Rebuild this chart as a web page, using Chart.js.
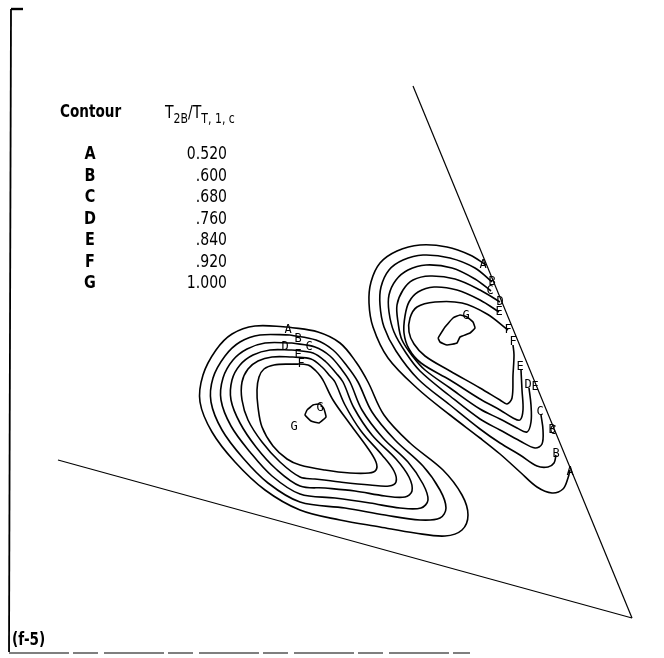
<!DOCTYPE html>
<html>
<head>
<meta charset="utf-8">
<script src="https://cdn.jsdelivr.net/npm/chart.js@4.4.1/dist/chart.umd.min.js"></script>
<style>
  html, body { margin: 0; padding: 0; background: #fff; }
  #wrap { width: 664px; height: 658px; position: relative; }
</style>
</head>
<body>
<div id="wrap"><canvas id="miGrafica"></canvas></div>
<script>
// contour levels, T2B / TT,1,c
const levels = ['A', 'B', 'C', 'D', 'E', 'F', 'G'];
const levelValues = ['0.520', '.600', '.680', '.760', '.840', '.920', '1.000'];

// plotter frame units (x to the right, y downward)
// left peak, closed loops A..F and the small G island
const leftA = [[28.8,32.7],[31.8,33.2],[34.0,34.3],[35.6,36.2],[36.8,38.2],[38.4,41.5],[41.0,44.3],[44.3,47.0],[46.2,49.5],[46.8,51.5],[46.2,53.0],[44.5,53.6],[41.5,53.3],[38.0,52.7],[34.0,52.0],[30.0,51.0],[26.5,49.0],[23.5,46.2],[21.2,43.2],[20.0,40.2],[20.3,37.5],[21.6,35.0],[23.2,33.4],[25.5,32.6],[28.8,32.7]];
const leftB = [[29.0,33.5],[31.6,34.0],[33.3,35.0],[34.7,36.6],[35.8,38.2],[37.2,41.2],[39.5,44.0],[42.3,46.6],[44.0,49.0],[44.6,50.8],[44.0,51.8],[42.0,52.0],[38.5,51.5],[34.5,50.8],[30.0,50.2],[26.8,48.3],[24.3,45.8],[22.2,43.0],[21.1,40.2],[21.3,37.8],[22.5,35.6],[24.0,34.2],[26.0,33.5],[29.0,33.5]];
const leftC = [[29.2,34.3],[31.5,34.7],[33.0,35.6],[34.2,37.0],[35.0,38.2],[36.2,41.0],[38.3,43.8],[40.8,46.2],[42.3,48.4],[42.8,50.0],[42.1,50.8],[40.0,50.8],[37.0,50.3],[33.5,49.8],[30.0,49.4],[27.2,47.6],[25.0,45.2],[23.1,42.6],[22.1,40.0],[22.3,37.8],[23.3,36.0],[24.7,34.9],[26.5,34.3],[29.2,34.3]];
const leftD = [[29.2,35.0],[31.3,35.3],[32.6,36.2],[33.6,37.3],[34.3,38.2],[35.4,40.8],[37.2,43.5],[39.6,45.9],[40.9,47.7],[41.2,49.1],[40.5,49.7],[38.5,49.6],[35.5,49.1],[32.5,48.8],[30.0,48.6],[27.6,46.9],[25.6,44.7],[24.0,42.3],[23.1,40.0],[23.2,38.0],[24.0,36.5],[25.3,35.5],[27.0,35.0],[29.2,35.0]];
const leftE = [[29.3,35.7],[31.1,35.9],[32.2,36.7],[33.0,37.6],[33.5,38.2],[34.5,40.5],[36.1,43.1],[38.2,45.5],[39.4,47.1],[39.6,48.2],[38.9,48.6],[37.0,48.5],[34.0,48.2],[31.5,47.9],[30.0,47.7],[28.0,46.2],[26.2,44.2],[24.8,42.0],[24.2,40.0],[24.2,38.2],[24.8,36.9],[25.8,36.1],[27.2,35.7],[29.3,35.7]];
const leftF = [[29.2,36.4],[30.8,36.5],[31.6,37.1],[32.1,37.7],[32.4,38.2],[33.3,40.0],[35.0,42.4],[36.7,44.7],[37.6,46.2],[37.6,47.0],[36.9,47.3],[35.0,47.3],[32.5,47.0],[30.0,46.5],[28.7,45.9],[27.3,44.6],[26.2,42.7],[25.8,40.7],[25.7,39.0],[25.9,37.7],[26.4,36.9],[27.4,36.5],[29.2,36.4]];
const leftG = [[30.7,41.0],[31.3,40.5],[32.0,40.4],[32.4,40.9],[32.6,41.7],[31.9,42.3],[31.1,42.1],[30.5,41.5],[30.7,41.0]];

// right peak, cut off by the sloping boundary
const rightA = [[48.6,26.5],[47.0,25.5],[44.7,24.7],[42.0,24.5],[39.7,25.1],[38.0,26.3],[37.1,28.2],[36.9,30.3],[37.3,32.7],[38.8,35.8],[41.8,38.9],[45.0,41.5],[48.0,43.8],[50.0,45.4],[52.0,47.2],[53.7,48.7],[55.2,49.3],[56.3,48.9],[56.8,47.8],[57.0,47.0]];
const rightB = [[49.2,28.2],[47.5,26.8],[45.0,25.8],[42.3,25.5],[40.3,26.0],[38.9,27.0],[38.1,28.7],[38.0,30.5],[38.4,32.7],[39.6,35.1],[41.8,37.9],[45.0,40.5],[48.0,42.9],[50.0,44.3],[52.0,45.5],[53.7,46.6],[54.8,46.7],[55.4,46.3],[55.6,45.5]];
const rightC = [[49.1,29.1],[47.5,27.9],[45.2,26.8],[42.6,26.5],[40.8,27.0],[39.6,28.0],[38.9,29.5],[38.9,31.2],[39.4,33.2],[40.6,35.3],[42.0,37.1],[45.0,39.6],[48.0,41.9],[50.0,43.0],[52.0,44.1],[53.5,44.8],[54.2,44.4],[54.3,43.0],[54.1,41.5]];
const rightD = [[50.0,30.2],[48.0,29.0],[45.5,27.9],[43.0,27.6],[41.3,28.0],[40.3,29.0],[39.7,30.5],[39.8,32.2],[40.2,34.0],[41.4,35.8],[42.5,37.0],[45.0,38.8],[48.0,40.9],[50.0,41.9],[51.7,42.8],[52.7,43.2],[53.1,42.2],[53.1,40.5],[52.9,38.8]];
const rightE = [[49.9,31.2],[48.0,30.0],[45.7,29.0],[43.4,28.7],[41.8,29.2],[40.9,30.2],[40.5,31.6],[40.4,33.3],[40.9,34.9],[42.1,36.3],[45.0,38.0],[48.0,39.9],[50.0,41.0],[51.3,41.8],[52.0,42.0],[52.3,41.0],[52.2,39.0],[52.1,37.0]];
const rightF = [[50.8,33.0],[48.7,31.4],[46.2,30.3],[43.5,30.2],[41.7,30.7],[41.0,31.8],[40.9,33.2],[41.4,34.4],[42.5,35.6],[45.0,37.1],[48.0,38.8],[50.0,40.0],[50.7,40.4],[51.2,39.8],[51.3,37.5],[51.4,35.5],[51.3,34.5]];
const rightG = [[43.8,33.8],[44.5,32.7],[45.3,31.8],[46.0,31.5],[46.7,31.7],[47.3,32.2],[47.5,32.8],[47.0,33.3],[46.0,33.7],[45.7,34.3],[44.7,34.5],[44.0,34.2],[43.8,33.8]];

// triangle edges of the region
const edgeRight = [[41.3,8.6],[63.2,61.8]];
const edgeLower = [[5.8,46.0],[63.2,61.8]];

// sheet border
const borderLeft = [[1.1,0.9],[0.9,65.2]];
const borderTop = [[1.1,0.9],[2.3,0.9]];
const borderBottom = [[0.9,65.3],[47.0,65.3]];

// letters written by the plotter along the curves
const curveTags = ['A','B','C','D','E','F','G','G', 'A','B','C','D','E','F','F','G','E','D','E','C','B','C','B','A'];
const curveTagX = [28.8,29.8,30.9,28.5,29.8,30.1,32.0,29.4, 48.3,49.2,49.0,50.0,49.9,50.8,51.3,46.6,52.0,52.8,53.5,54.0,55.2,55.3,55.6,57.0];
const curveTagY = [33.0,33.9,34.7,34.7,35.5,36.4,40.8,42.7, 26.5,28.2,29.1,30.2,31.2,33.0,34.2,31.6,36.7,38.5,38.7,41.2,43.0,43.1,45.4,47.2];

const pts = arr => arr.map(p => ({ x: p[0], y: p[1] }));

function linea(data, opts) {
    return Object.assign({
        data: pts(data),
        showLine: true,
        pointRadius: 0,
        borderColor: '#000',
        borderWidth: 1.6,
        tension: 0.35,
        fill: false
    }, opts || {});
}

const datasets = [
    linea(leftA), linea(leftB), linea(leftC), linea(leftD), linea(leftE), linea(leftF),
    linea(leftG, { tension: 0.1 }),
    linea(rightA), linea(rightB), linea(rightC), linea(rightD), linea(rightE), linea(rightF),
    linea(rightG, { tension: 0.1 }),
    linea(edgeRight, { tension: 0, borderWidth: 1.2 }),
    linea(edgeLower, { tension: 0, borderWidth: 1.2 }),
    linea(borderLeft, { tension: 0, borderWidth: 1.8 }),
    linea(borderTop, { tension: 0, borderWidth: 2.4 }),
    linea(borderBottom, { tension: 0, borderWidth: 1.4, borderColor: '#555', borderDash: [60, 4, 25, 6] })
];

// draw text squeezed sideways, like the condensed lettering of the figure
function squeezed(ctx, txt, px, py, sx, align) {
    ctx.save();
    ctx.translate(px, py);
    ctx.scale(sx, 1);
    ctx.textAlign = align;
    ctx.fillText(txt, 0, 0);
    ctx.restore();
}

const figureText = {
    id: 'figureText',
    afterDatasetsDraw(chart) {
        const { ctx, scales } = chart;
        const X = v => scales.x.getPixelForValue(v);
        const Y = v => scales.y.getPixelForValue(v);
        ctx.save();
        ctx.fillStyle = '#000';
        ctx.textBaseline = 'alphabetic';

        // table heading
        ctx.font = 'bold 17px "DejaVu Sans"';
        squeezed(ctx, 'Contour', X(6.0), Y(11.7), 0.8, 'left');

        const runs = [
            { t: 'T', size: 18, dy: 0 },
            { t: '2B', size: 14, dy: 0.5 },
            { t: '/T', size: 18, dy: 0 },
            { t: 'T, 1, c', size: 14, dy: 0.5 }
        ];
        let hx = X(16.5);
        runs.forEach(r => {
            ctx.font = r.size + 'px "DejaVu Sans"';
            squeezed(ctx, r.t, hx, Y(11.8 + r.dy), 0.78, 'left');
            hx += ctx.measureText(r.t).width * 0.78;
        });

        // table rows
        levels.forEach((lv, i) => {
            const by = Y(15.9 + i * 2.15);
            ctx.font = 'bold 18px "DejaVu Sans"';
            squeezed(ctx, lv, X(9.0), by, 0.8, 'center');
            ctx.font = '18px "DejaVu Sans"';
            squeezed(ctx, levelValues[i], X(22.7), by, 0.78, 'right');
        });

        ctx.font = 'bold 17px "DejaVu Sans"';
        squeezed(ctx, '(f-5)', X(1.2), Y(64.5), 0.8, 'left');

        // curve letters
        ctx.font = '12px "DejaVu Sans Mono"';
        ctx.textAlign = 'center';
        ctx.textBaseline = 'middle';
        curveTags.forEach((t, i) => {
            ctx.fillText(t, X(curveTagX[i]), Y(curveTagY[i]));
        });
        ctx.restore();
    }
};

let micanvas = document.getElementById('miGrafica').getContext('2d');
let chart = new Chart(micanvas, {
    type: 'scatter',
    data: { datasets: datasets },
    options: {
        responsive: true,
        maintainAspectRatio: false,
        animation: false,
        layout: { padding: 0 },
        scales: {
            x: { type: 'linear', min: 0, max: 66.4, display: false },
            y: { type: 'linear', min: 0, max: 65.8, reverse: true, display: false }
        },
        plugins: {
            legend: { display: false },
            tooltip: { enabled: false }
        }
    },
    plugins: [figureText]
});
</script>
</body>
</html>
